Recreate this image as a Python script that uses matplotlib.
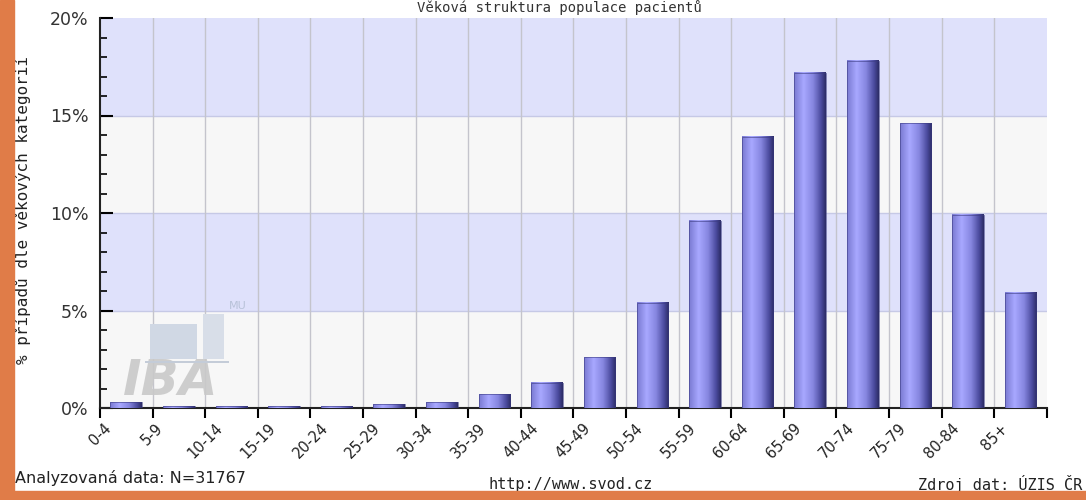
import numpy as np
import matplotlib
matplotlib.use("Agg")
import matplotlib.pyplot as plt
from matplotlib.colors import LinearSegmentedColormap
from matplotlib.patches import Rectangle

# Data
categories = ["0-4", "5-9", "10-14", "15-19", "20-24", "25-29", "30-34",
              "35-39", "40-44", "45-49", "50-54", "55-59", "60-64",
              "65-69", "70-74", "75-79", "80-84", "85+"]
values = [0.3, 0.1, 0.1, 0.1, 0.1, 0.2, 0.3, 0.7, 1.3, 2.6, 5.4, 9.6,
          13.9, 17.2, 17.8, 14.6, 9.9, 5.9]

title = "Věková struktura populace pacientů"
ylabel = "% případů dle věkových kategorií"
n_text = "Analyzovaná data: N=31767"
url_text = "http://www.svod.cz"
src_text = "Zdroj dat: ÚZIS ČR"

orange = "#e07c48"
band_blue = "#dfe1fb"
band_gray = "#f7f7f7"

fig = plt.figure(figsize=(10.86, 5.0), dpi=100)
fig.patch.set_facecolor("white")
ax = fig.add_axes([0.092, 0.184, 0.872, 0.78])

n = len(categories)
x = np.arange(n)

# alternating bands
for lo in range(0, 20, 5):
    col = band_blue if (lo // 5) % 2 == 1 else band_gray
    ax.axhspan(lo, lo + 5, color=col, zorder=0, lw=0)
for lo in range(5, 20, 5):
    ax.axhline(lo, color="#c6c9e6", lw=1, zorder=1)
for b in np.arange(0.5, n - 0.5, 1):
    ax.axvline(b, color="#c4c4cc", lw=1, zorder=1)

# gradient bars
cmap = LinearSegmentedColormap.from_list(
    "bar", [(0, "#7a7ad2"), (0.3, "#a8a8ff"), (0.6, "#8686e0"),
            (0.85, "#4c4ca0"), (1, "#2c2c66")])
grad = np.linspace(0, 1, 64).reshape(1, -1)
w = 0.6
for xi, v in zip(x, values):
    ax.imshow(grad, cmap=cmap, aspect="auto", extent=[xi - w / 2, xi + w / 2, 0, v],
              zorder=3, interpolation="bilinear")
    ax.add_patch(Rectangle((xi - w / 2, 0), w, v, fill=False, ec="#3a3a80",
                           lw=0.4, zorder=4))
ax.set_xlim(-0.5, n - 0.5)
ax.set_ylim(0, 20)

# watermark
ax.text(0.85, 0.15, "IBA", fontsize=36, fontstyle="italic", fontweight="bold",
        color="#c9c9c9", ha="center", va="bottom", zorder=2, alpha=0.9)
ax.text(1.95, 5.1, "MU", fontsize=8, color="#b8c2d8", zorder=2)
ax.add_patch(Rectangle((0.35, 2.3), 1.6, 0.12, color="#c4ccd8", zorder=2, lw=0))
ax.add_patch(Rectangle((0.45, 2.5), 0.9, 1.8, color="#d0d8e4", zorder=2, lw=0))
ax.add_patch(Rectangle((1.45, 2.5), 0.4, 2.3, color="#d8dee8", zorder=2, lw=0))

# axes styling
for s in ["top", "right"]:
    ax.spines[s].set_visible(False)
for s in ["left", "bottom"]:
    ax.spines[s].set_color("#222222")
    ax.spines[s].set_linewidth(1.5)

ax.set_yticks([0, 5, 10, 15, 20])
ax.set_yticklabels(["0%", "5%", "10%", "15%", "20%"], fontsize=12.5, color="#333333")
ax.set_yticks(np.arange(0, 21, 1), minor=True)
ax.tick_params(axis="y", which="major", direction="in", length=9, width=1.5, pad=8)
ax.tick_params(axis="y", which="minor", direction="in", length=5, width=1.2)

ax.set_xticks(np.arange(-0.5, n, 1))
ax.set_xticklabels(categories + [""], rotation=45, ha="center", va="top",
                   fontsize=10.5, color="#222222")
ax.tick_params(axis="x", direction="out", length=7, width=1.5, pad=2)

# texts
fig.text(0.021, 0.58, ylabel, rotation=90, ha="center", va="center",
         fontsize=11.5, family="DejaVu Sans Mono", color="#222222")
fig.text(0.515, 0.999, title, ha="center", va="top", fontsize=10,
         family="DejaVu Sans Mono", color="#333333")
fig.text(0.014, 0.045, n_text, ha="left", va="center", fontsize=11.5, color="#222222")
fig.text(0.525, 0.032, url_text, ha="center", va="center", fontsize=11,
         family="DejaVu Sans Mono", color="#222222")
fig.text(0.997, 0.032, src_text, ha="right", va="center", fontsize=11,
         family="DejaVu Sans Mono", color="#222222")

# orange frame
fig.patches.append(Rectangle((0, 0), 0.013, 1, transform=fig.transFigure,
                             color=orange, zorder=10))
fig.patches.append(Rectangle((0, 0), 1, 0.018, transform=fig.transFigure,
                             color=orange, zorder=10))

fig.savefig("out.png", dpi=100)
